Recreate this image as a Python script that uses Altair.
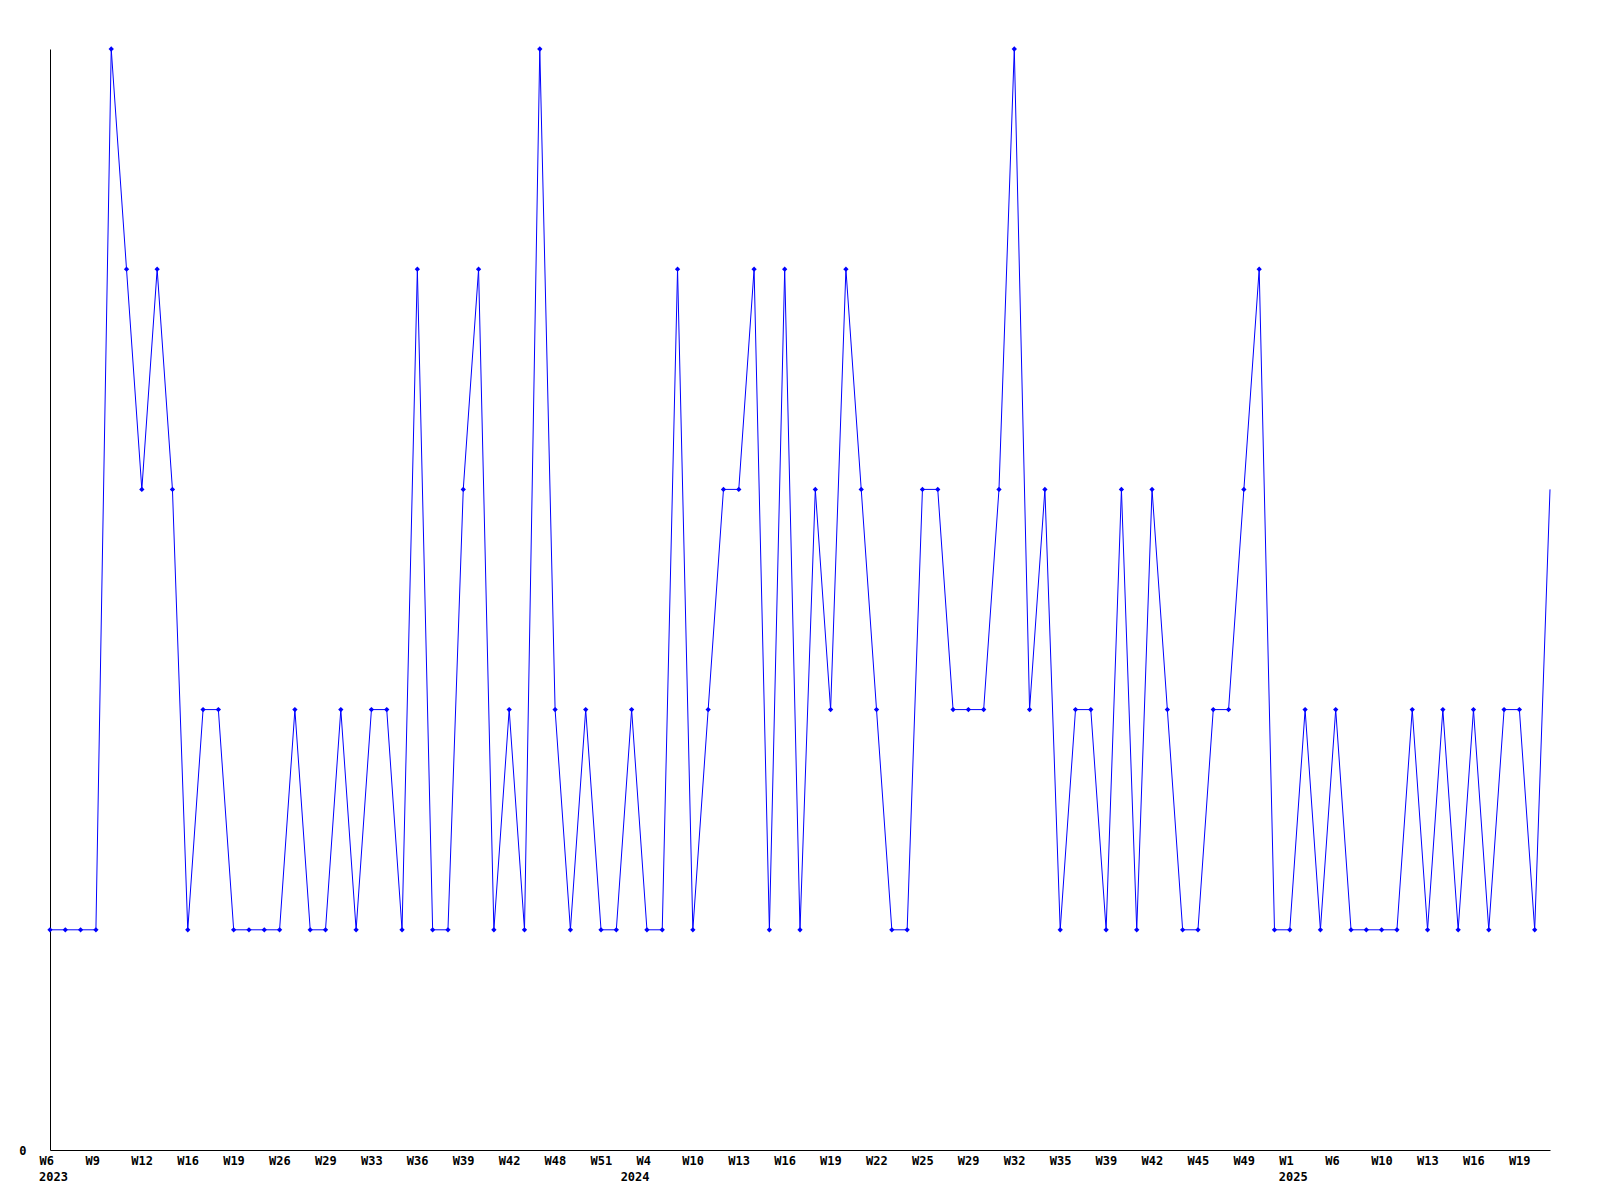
import json
import altair as alt
import pandas as pd

# Week labels for every data point (only every 3rd is shown on the axis)
weeks = [
    "W6", "W7", "W8", "W9", "W10", "W11", "W12", "W14", "W15",
    "W16", "W17", "W18", "W19", "W21", "W24", "W26", "W27", "W28",
    "W29", "W30", "W32", "W33", "W34", "W35", "W36", "W37", "W38",
    "W39", "W40", "W41", "W42", "W44", "W46", "W48", "W49", "W50",
    "W51", "W52", "W2", "W4", "W6", "W8", "W10", "W11", "W12",
    "W13", "W14", "W15", "W16", "W17", "W18", "W19", "W20", "W21",
    "W22", "W23", "W24", "W25", "W26", "W28", "W29", "W30", "W31",
    "W32", "W33", "W34", "W35", "W36", "W38", "W39", "W40", "W41",
    "W42", "W43", "W44", "W45", "W46", "W48", "W49", "W50", "W52",
    "W1", "W3", "W5", "W6", "W8", "W9", "W10", "W11", "W12",
    "W13", "W14", "W15", "W16", "W17", "W18", "W19", "W20", "W21",
]
years = [2023] * 38 + [2024] * 43 + [2025] * 18

values = [
    1, 1, 1, 1, 5, 4, 3, 4, 3, 1,
    2, 2, 1, 1, 1, 1, 2, 1, 1, 2,
    1, 2, 2, 1, 4, 1, 1, 3, 4, 1,
    2, 1, 5, 2, 1, 2, 1, 1, 2, 1,
    1, 4, 1, 2, 3, 3, 4, 1, 4, 1,
    3, 2, 4, 3, 2, 1, 1, 3, 3, 2,
    2, 2, 3, 5, 2, 3, 1, 2, 2, 1,
    3, 1, 3, 2, 1, 1, 2, 2, 3, 4,
    1, 1, 2, 1, 2, 1, 1, 1, 1, 2,
    1, 2, 1, 2, 1, 2, 2, 1, 3,
]

n = len(values)
df = pd.DataFrame({"i": list(range(n)), "value": values, "week": weeks, "year": years})

tick_idx = list(range(0, n, 3))
tick_labels = [weeks[k] for k in tick_idx]
label_expr = json.dumps(tick_labels) + "[round(datum.value / 3)]"

# first point of each year gets the year caption
year_rows = [
    {"i": k, "year": str(years[k])}
    for k in range(n)
    if k == 0 or years[k] != years[k - 1]
]
year_df = pd.DataFrame(year_rows)

FONT = "DejaVu Sans Mono"
BLUE = "#0000ff"
H = 1101

xscale = alt.Scale(domain=[0, n - 1], nice=False, zero=False)
x = alt.X(
    "i:Q",
    scale=xscale,
    axis=alt.Axis(
        values=tick_idx, labelExpr=label_expr, title=None, ticks=False, grid=False,
        labelAlign="left", labelOffset=-11, labelBaseline="top", labelPadding=5,
        labelFont=FONT, labelFontWeight="bold", labelFontSize=12,
        labelColor="black", domainColor="black", domainWidth=1,
        labelOverlap=False, labelFlush=False, labelBound=False,
    ),
)
y = alt.Y(
    "value:Q",
    scale=alt.Scale(domain=[0, 5], nice=False, zero=True),
    axis=alt.Axis(
        values=[0], title=None, ticks=False, grid=False, labelPadding=24,
        labelFont=FONT, labelFontWeight="bold", labelFontSize=12, labelColor="black",
        domainColor="black", domainWidth=1,
    ),
)

base = alt.Chart(df)
line = base.mark_line(color=BLUE, strokeWidth=1).encode(x=x, y=y)
pts = base.transform_filter(alt.datum.i < n - 1).mark_point(
    shape="diamond", filled=True, size=28, color=BLUE, opacity=1
).encode(x=x, y=y)

year_text = alt.Chart(year_df).mark_text(
    align="left", baseline="top", dx=-11, font=FONT, fontWeight="bold",
    fontSize=12, color="black",
).encode(
    x=alt.X("i:Q", scale=xscale),
    y=alt.value(H + 22),
    text="year:N",
)

chart = (
    alt.layer(line, pts, year_text)
    .properties(
        width=1500, height=H,
        autosize=alt.AutoSizeParams(type="none"),
        padding={"left": 42, "top": 41, "right": 30, "bottom": 60},
        background="white",
    )
    .configure_view(stroke=None)
)

chart.save("out.html", embed_options={"renderer": "svg", "actions": False})
